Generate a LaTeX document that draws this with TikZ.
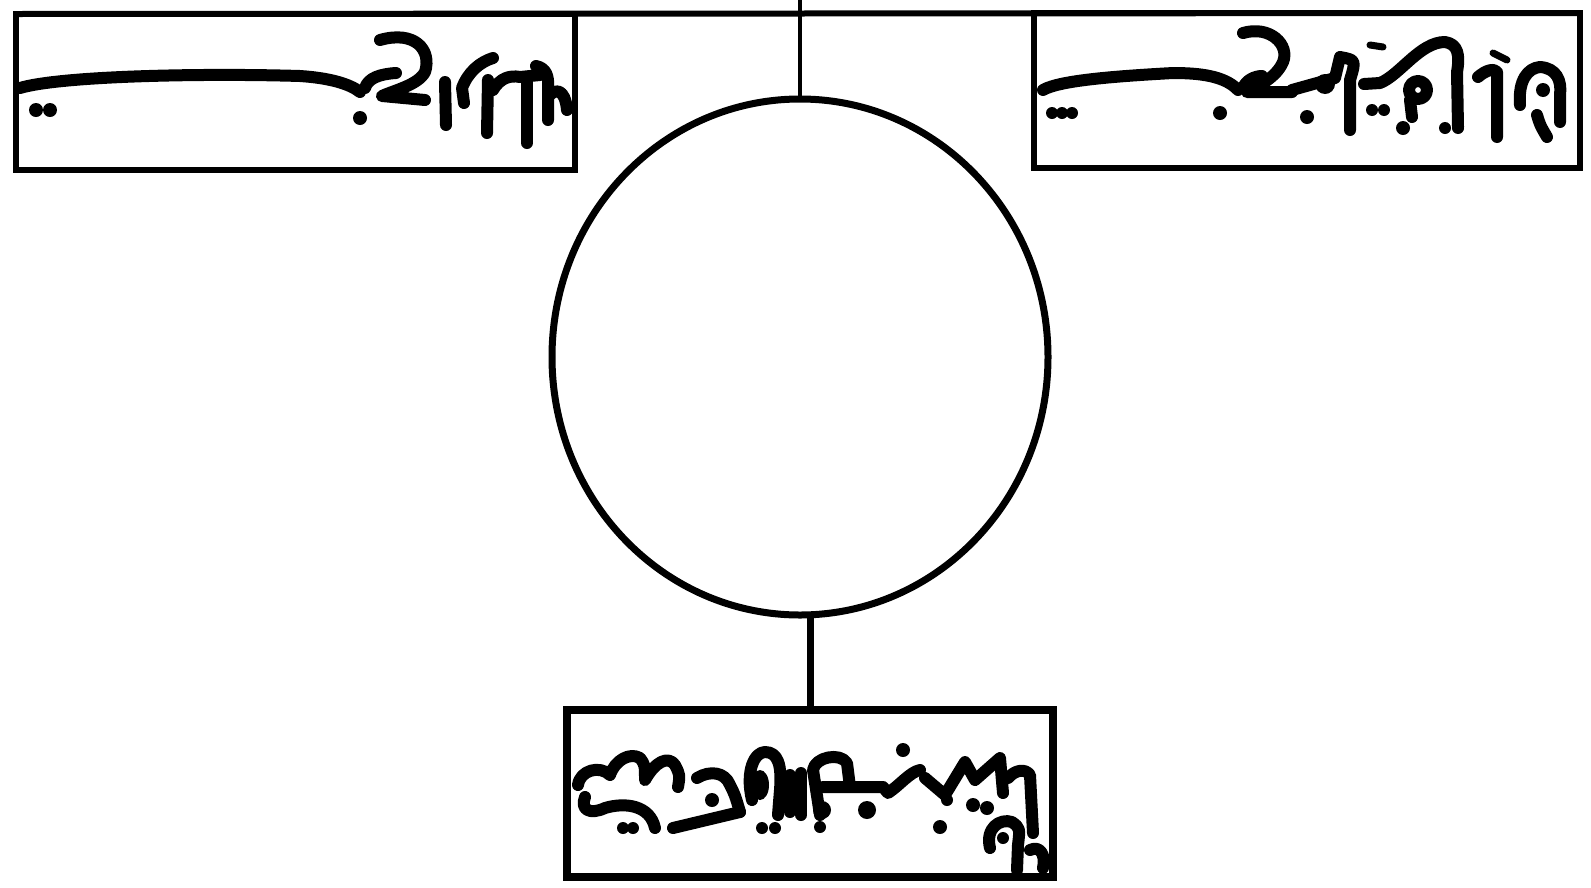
\documentclass[tikz,border=0pt]{standalone}
\usepackage{tikz}
\usetikzlibrary{shapes.geometric}
\usetikzlibrary{positioning}

\begin{document}
\begin{tikzpicture}[x=1pt, y=-1pt,
    labelbox/.style={draw, rectangle, line width=6pt, inner sep=0pt, outer sep=0pt},
    hub/.style={draw, ellipse, line width=7pt, inner sep=0pt, outer sep=0pt,
      minimum width=496pt, minimum height=516pt},
    ink/.style={line width=12pt, line cap=round, line join=round},
    thinink/.style={line width=7pt, line cap=round, line join=round}]
        \useasboundingbox[fill=white] (0,0) rectangle (1591,887);

        % Draw the boxes and the circle
        \node[labelbox, minimum width=559pt, minimum height=156pt] (lbox) at (295.5,92) {};
        \node[labelbox, minimum width=546pt, minimum height=155pt] (rbox) at (1307,90.5) {};
        \node[hub] (hub) at (800,357) {};
        \node[labelbox, line width=8.5pt, minimum width=486pt, minimum height=167pt] (bbox) at (810,793.5) {};
        \coordinate (top) at (800,0);

        % Draw the connectors
        \draw[line width=6pt] (lbox.north west) -- (rbox.north east);
        \draw[line width=4.5pt] (top) -- (hub.north);
        \draw[line width=7pt] (hub.south -| bbox.north) -- (bbox.north);

        % Script in the left box
        \draw[ink] (20,88) .. controls (60,76) and (200,73) .. (300,76) .. controls (330,78) and (350,84) .. (360,92);
        \draw[ink] (365,88) .. controls (368,78) and (380,74) .. (396,73);
        \draw[ink] (380,40) .. controls (415,30) and (432,50) .. (425,72) .. controls (418,85) and (395,90) .. (382,96) -- (425,100);
        \fill (360,118) circle (7);
        \fill (36,110) circle (7) (50,110) circle (7);
        \draw[ink] (445,82) -- (446,125);
        \draw[ink] (464,103) -- (462,88) .. controls (468,72) and (480,62) .. (493,58);
        \draw[ink] (488,80) -- (487,133);
        \draw[ink] (493,90) .. controls (500,78) and (510,75) .. (520,77) -- (540,75);
        \draw[ink] (527,82) -- (527,143);
        \draw[ink] (536,66) .. controls (546,68) and (549,76) .. (548,88) -- (548,120);
        \draw[ink] (548,97) .. controls (555,88) and (565,88) .. (567,110);

        % Script in the right box
        \draw[ink] (1043,90) .. controls (1060,80) and (1120,76) .. (1173,73) .. controls (1200,73) and (1225,76) .. (1238,90);
        \fill (1052,113) circle (6) (1062,113) circle (6) (1072,113) circle (6);
        \fill (1220,113) circle (7) (1307,117) circle (7);
        \draw[ink] (1243,88) .. controls (1246,80) and (1255,76) .. (1262,76);
        \draw[ink] (1243,33) .. controls (1270,25) and (1290,45) .. (1283,62) .. controls (1276,78) and (1258,86) .. (1247,92) -- (1292,92);
        \draw[ink] (1292,90) -- (1335,78) -- (1340,57) .. controls (1356,60) .. (1350,80) -- (1350,130);
        \fill (1325,84) circle (10);
        \draw[thinink] (1370,45) -- (1383,47);
        \fill (1372,110) circle (6) (1384,110) circle (6) (1403,128) circle (7);
        \draw[ink] (1364,84) -- (1380,83) .. controls (1400,75) and (1420,42) .. (1445,42) .. controls (1458,44) and (1460,55) .. (1457,72) -- (1458,127);
        \draw[ink] (1418,90) circle (9);
        \draw[ink] (1410,100) -- (1412,117);
        \fill (1445,128) circle (6) (1458,128) circle (6);
        \draw[thinink] (1493,53) -- (1507,60);
        \draw[ink] (1478,77) .. controls (1486,70) and (1494,68) .. (1497,72) -- (1497,137);
        \draw[ink] (1520,105) .. controls (1518,80) and (1528,68) .. (1540,67) .. controls (1556,68) and (1562,80) .. (1560,95) -- (1560,122);
        \fill (1543,90) circle (7);
        \draw[ink] (1537,115) .. controls (1540,125) .. (1547,137);

        % Script in the bottom box
        \draw[ink] (578,785) .. controls (580,770) and (600,765) .. (610,775) .. controls (615,760) and (630,752) .. (640,758) .. controls (645,765) .. (645,780) .. controls (655,762) and (668,755) .. (675,765) .. controls (680,775) .. (678,787);
        \draw[ink] (585,797) .. controls (580,810) and (590,815) .. (605,808) .. controls (625,802) and (650,805) .. (655,828);
        \fill (623,828) circle (6) (633,828) circle (6);
        \draw[ink] (673,828) -- (740,812);
        \draw[ink] (697,778) .. controls (710,770) and (725,772) .. (730,785) .. controls (735,795) .. (740,812);
        \fill (712,800) circle (7);
        \draw[ink] (752,800) .. controls (745,770) and (755,752) .. (765,752) .. controls (778,752) and (782,765) .. (780,790) -- (778,815);
        \fill (760,785) ellipse (9 and 15);
        \draw[ink] (790,775) -- (790,812);
        \fill (762,828) circle (6) (775,828) circle (6);
        \draw[ink] (801,773) -- (801,815);
        \draw[ink] (820,815) -- (813,770) .. controls (815,757) and (840,752) .. (847,763) -- (850,787);
        \fill (822,810) circle (9);
        \draw[ink] (823,787) -- (883,787) -- (888,793) .. controls (900,785) and (910,772) .. (920,770);
        \fill (903,750) circle (7) (867,810) circle (9) (820,827) circle (6) (940,827) circle (7)
              (973,805) circle (7) (987,808) circle (7) (947,800) circle (6);
        \draw[ink] (925,778) -- (945,795) -- (965,762) -- (975,780) -- (1000,758) -- (1003,793);
        \draw[ink] (1008,778) .. controls (1015,770) and (1025,768) .. (1030,775) -- (1033,833);
        \draw[ink] (990,848) .. controls (985,828) and (1000,818) .. (1012,822) .. controls (1020,828) .. (1018,845) -- (1017,870);
        \fill (1003,838) circle (6);
        \draw[ink] (1030,850) .. controls (1040,845) and (1046,855) .. (1043,868);
      \end{tikzpicture}
\end{document}
